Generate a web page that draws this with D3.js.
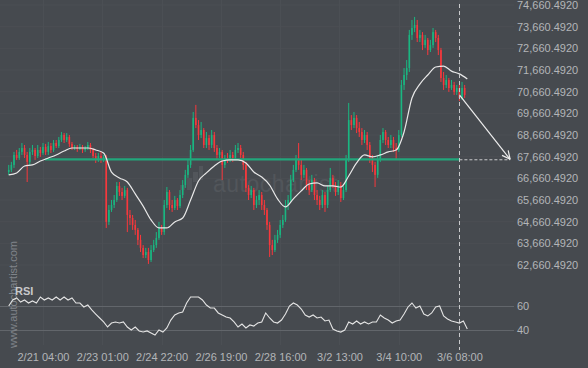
<!DOCTYPE html>
<html><head><meta charset="utf-8">
<script src="https://cdn.jsdelivr.net/npm/d3@7"></script>
<style>
html,body{margin:0;padding:0;background:#464a4f;}
svg{display:block;}
text{font-family:"Liberation Sans",Arial,sans-serif;}
</style>
</head><body>
<svg id="chart" width="588" height="368"></svg>
<script>
// ---------- DATA ----------
const priceTicks = [74660.492, 73660.492, 72660.492, 71660.492, 70660.492, 69660.492, 68660.492,
  67660.492, 66660.492, 65660.492, 64660.492, 63660.492, 62660.492];
const timeTicks = ["2023-02-21T04:00", "2023-02-23T01:00", "2023-02-24T22:00", "2023-02-26T19:00",
  "2023-02-28T16:00", "2023-03-02T13:00", "2023-03-04T10:00", "2023-03-06T08:00"];
const rsiTicks = [60, 40];

const candleStart = "2023-02-20T02:00"; // 2-hour candles
const candleStepHours = 2;
// [open, high, low, close]
const ohlc = [
[66950,67280,66820,67050],[67050,67420,66950,67280],[67280,67880,67140,67740],[67740,67970,67510,67600],
[67600,68060,67510,67880],[67880,68290,67740,68060],[68060,68200,67600,67740],[67740,67880,66490,67420],
[67420,68060,67280,67880],[67880,68200,67740,67970],[67970,68060,67510,67690],[67690,68200,67600,67970],
[67970,68110,67650,67830],[67830,68290,67740,68110],[68110,68250,67740,67880],[67880,68340,67740,68150],
[68150,68290,67830,67970],[67970,68430,67880,68290],[68290,68430,68060,68150],[68150,68570,68060,68430],
[68430,68800,68340,68660],[68660,68750,68290,68430],[68430,68750,68340,68570],[68570,68660,68110,68250],
[68250,68340,67970,68060],[68060,68200,67970,68110],[68110,68200,67880,68010],[68010,68250,67970,68110],
[68110,68200,67830,67970],[67970,68150,67880,68060],[68060,68340,67970,68200],[68200,68290,67830,67970],
[67970,68060,67600,67690],[67690,67830,67370,67510],[67510,67830,67420,67690],[67690,67880,67370,67510],
[67510,67740,67420,67650],[67650,67740,64370,64650],[64650,65430,64510,65200],[65200,65660,65110,65430],
[65430,65890,65290,65660],[65660,66490,65570,66310],[66310,66490,65850,66030],[66030,66220,65660,65850],
[65850,66310,65750,66120],[66120,66220,64180,64970],[64970,65200,64510,64830],[64830,64970,64280,64510],
[64510,64740,64050,64280],[64280,64370,63580,63820],[63820,64050,63260,63450],[63450,63580,62980,63120],
[63120,63450,62980,63260],[63260,63450,62710,62890],[62890,63580,62800,63350],[63350,63820,63260,63580],
[63580,64180,63450,63910],[63910,64650,63820,64370],[64370,64510,64050,64180],[64180,65660,64050,65430],
[65430,66260,65290,66030],[66030,66120,65200,65430],[65430,65660,65110,65290],[65290,65850,65200,65660],
[65660,65750,65200,65380],[65380,66120,65290,65890],[65890,66580,65750,66350],[66350,67050,66220,66820],
[66820,67510,66680,67280],[67280,68200,67140,67970],[67970,69720,67880,69450],[69450,70050,68980,69120],
[69120,69350,68430,68660],[68660,69260,68520,68890],[68890,68980,68060,68200],[68200,68800,68060,68520],
[68520,68660,67970,68200],[68200,68890,68060,68660],[68660,68800,67880,68060],[68060,68200,67510,67740],
[67740,68060,67600,67880],[67880,67970,66580,67280],[67280,67740,67140,67600],[67600,67830,67370,67510],
[67510,67970,67420,67740],[67740,67880,67420,67600],[67600,68200,67510,67970],[67970,68290,67830,68060],
[68060,68200,67600,67740],[67740,67880,67050,67280],[67280,67420,66030,66220],[66220,66350,65660,65890],
[65890,66310,65750,66120],[66120,66220,65200,65430],[65430,65850,65290,65660],[65660,66120,65430,65890],
[65890,66030,65200,65430],[65430,65660,64970,65200],[65200,65290,64280,64510],[64510,64650,63030,63580],
[63580,63820,63120,63350],[63350,64050,63260,63820],[63820,64280,63680,64050],[64050,64740,63910,64510],
[64510,64970,64370,64740],[64740,65660,64650,65430],[65430,65890,65200,65660],[65660,66820,65570,66580],
[66580,67280,66490,67050],[67050,67740,66950,67510],[67510,68290,67050,67280],[67280,67510,66580,66820],
[66820,67280,66680,67050],[67050,67140,66120,66350],[66350,66580,65890,66120],[66120,66820,66030,66580],
[66580,66680,65660,65890],[65890,66120,65430,65660],[65660,65850,65200,65430],[65430,66120,65290,65890],
[65890,66030,65110,65430],[65430,66310,65290,66120],[66120,67140,66030,66680],[66680,66820,66220,66350],
[66350,66490,65850,66030],[66030,66580,65890,66350],[66350,66490,65570,65750],[65750,66310,65660,66120],
[66120,67740,66030,67510],[67510,70140,67420,69350],[69350,69580,68890,69120],[69120,69720,68980,69450],
[69450,69580,68750,68980],[68980,69260,68570,68800],[68800,68980,68200,68430],[68430,68890,68290,68660],
[68660,68800,67970,68200],[68200,68340,67370,67600],[67600,67740,66950,67280],[67280,67420,66260,66820],
[66820,67740,66680,67510],[67510,68660,67420,68430],[68430,68980,68290,68800],[68800,68890,68200,68430],
[68430,68570,68060,68200],[68200,68660,68060,68430],[68430,68570,67880,68060],[68060,68290,67510,67970],
[67970,68890,67880,68660],[68660,71200,68570,70970],[70970,71750,70740,71430],[71430,72120,71200,71750],
[71750,73510,71570,73280],[73280,73970,73050,73600],[73600,74110,73410,73740],[73740,73970,72950,73140],
[73140,73510,72950,73280],[73280,73410,72580,72810],[72810,73280,72680,73050],[73050,73140,72350,72580],
[72580,73050,72490,72810],[72810,73600,72680,73410],[73410,73510,72950,73140],[73140,73280,72350,72580],
[72580,72680,71110,71290],[71290,71570,70740,70970],[70970,71430,70830,71200],[71200,71290,70650,70830],
[70830,71200,70740,70970],[70970,71110,70510,70650],[70650,70970,70510,70830],[70830,70970,70230,70370],
[70370,71110,70280,70830],[70830,70970,70370,70510]
];

const maStart = "2023-02-20T02:00"; // moving average sampled every 6 hours
const maStepHours = 6;
const maValues = [66820,66910,67230,67280,67460,67600,67740,67920,68060,68060,68060,67970,67830,66950,
  66680,66490,65940,65380,64740,64370,64370,64650,64830,65660,66540,66910,67230,67460,67510,67510,
  67370,66950,66720,66350,65710,65340,65710,66080,66400,66450,66310,66310,66260,66770,67370,67740,
  67650,67740,67880,67970,68800,70370,71010,71430,71800,71840,71610,71480,71250];

const rsiStart = "2023-02-20T02:00"; // RSI sampled every 3 hours
const rsiStepHours = 3;
const rsiValues = [60,65,66.7,63.3,65,62.5,64.2,62.5,67.5,65,66.7,65,67.5,65,67.5,65,66.7,62.5,62.5,59.2,
  60.8,56.7,53.3,50,46.7,42.5,45.8,46.7,45.8,46.7,42.5,40,42.5,39.2,38.3,39.2,37.5,35.8,40,38.3,41.7,
  48.3,52.5,54.2,55,62.5,67.5,67.5,67.5,65,60.8,58.3,58.3,54.2,52.5,50.8,50,46.7,42.5,45,41.7,44.2,
  43.3,45.8,46.7,54.2,50,46.7,45.8,48.3,53.3,60,62.5,60.8,57.5,52.5,50.8,52.5,50,50.8,47.5,48.3,40.8,
  39.2,38.3,40,46.7,45,47.5,45,46.7,45,46.7,46.7,52.5,50,48.3,45.8,47.5,48.3,53.3,59.2,62.5,58.3,60,
  53.3,51.7,54.2,59.2,60,51.7,49.2,47.5,46.7,45.8,47.5,40.8];

const supportLevel = 67540;
const supportFrom = "2023-02-21T05:30";
const supportTo = "2023-03-06T08:00";
const forecastFrom = {time: "2023-03-06T08:00", price: 70510};
const forecastTo = {time: "2023-03-07T22:30", price: 67540};

// ---------- DRAW ----------
const parse = d3.timeParse("%Y-%m-%dT%H:%M");
const HOUR = 3600 * 1000;
const svg = d3.select("#chart");
const W = 588, H = 368;
const plotRight = 514;

svg.append("rect").attr("width", W).attr("height", H).attr("fill", "#464a4f");

const x = d3.scaleTime()
  .domain([parse("2023-02-21T04:00"), parse("2023-03-06T08:00")])
  .range([43, 459.4]);
const y = d3.scaleLinear().domain([62660.492, 74660.492]).range([265, 5]);
const ry = d3.scaleLinear().domain([40, 60]).range([330, 306]);

const tickDates = timeTicks.map(parse);

// faint grid
const grid = svg.append("g");
grid.selectAll(".hg").data(priceTicks).enter().append("line")
  .attr("x1", 0).attr("x2", plotRight).attr("y1", d => y(d)).attr("y2", d => y(d))
  .attr("stroke", "#4b4f54").attr("stroke-width", 1);
grid.selectAll(".vg").data(tickDates).enter().append("line")
  .attr("x1", d => Math.round(x(d)) + 0.5).attr("x2", d => Math.round(x(d)) + 0.5)
  .attr("y1", 0).attr("y2", 345)
  .attr("stroke", "#4b4f54").attr("stroke-width", 1);

// RSI grid
svg.append("g").selectAll("line").data(rsiTicks).enter().append("line")
  .attr("x1", 0).attr("x2", plotRight).attr("y1", d => ry(d) + 0.5).attr("y2", d => ry(d) + 0.5)
  .attr("stroke", "#62666b").attr("stroke-width", 1);

// watermark logo + text
const wm = svg.append("g").attr("fill", "#52565b");
[[180, 185, 5, 5], [187, 178, 5, 12], [193, 172, 5, 10], [199, 166, 4, 14]].forEach(b => {
  wm.append("rect").attr("x", b[0]).attr("y", b[1]).attr("width", b[2]).attr("height", b[3]);
});
svg.append("text").attr("x", 213).attr("y", 192).attr("font-size", 23)
  .attr("fill", "#52565b").attr("letter-spacing", 0.5).text("autochartist");

// vertical url watermark
svg.append("text").attr("transform", "translate(17,348) rotate(-90)")
  .attr("font-size", 11).attr("fill", "#80848a").text("www.autochartist.com");

// candles
const cStart = parse(candleStart);
const cg = svg.append("g");
const ct = i => new Date(cStart.getTime() + i * candleStepHours * HOUR);
const green = "#1ab681", red = "#f7383c";
cg.selectAll("line").data(ohlc).enter().append("line")
  .attr("x1", (d, i) => x(ct(i))).attr("x2", (d, i) => x(ct(i)))
  .attr("y1", d => y(d[1])).attr("y2", d => y(d[2]))
  .attr("stroke", d => d[3] >= d[0] ? green : red).attr("stroke-width", 1);
cg.selectAll("rect").data(ohlc).enter().append("rect")
  .attr("x", (d, i) => x(ct(i)) - 0.8)
  .attr("width", 1.6)
  .attr("y", d => y(Math.max(d[0], d[3])))
  .attr("height", d => Math.max(1, Math.abs(y(d[0]) - y(d[3]))))
  .attr("fill", d => d[3] >= d[0] ? green : red);

// support line
svg.append("line")
  .attr("x1", x(parse(supportFrom))).attr("x2", x(parse(supportTo)))
  .attr("y1", y(supportLevel)).attr("y2", y(supportLevel))
  .attr("stroke", "#22a67b").attr("stroke-width", 2.2);
svg.append("line")
  .attr("x1", x(parse(supportTo))).attr("x2", x(parse(forecastTo.time)))
  .attr("y1", y(supportLevel) + 0.5).attr("y2", y(supportLevel) + 0.5)
  .attr("stroke", "#c9cacc").attr("stroke-width", 1).attr("stroke-dasharray", "3,2");

// moving average
const mStart = parse(maStart);
svg.append("path").datum(maValues)
  .attr("d", d3.line().x((d, i) => x(new Date(mStart.getTime() + i * maStepHours * HOUR))).y(d => y(d)).curve(d3.curveMonotoneX))
  .attr("fill", "none").attr("stroke", "#e8e8e8").attr("stroke-width", 1.2);

// forecast arrow
const fx1 = x(parse(forecastFrom.time)), fy1 = y(forecastFrom.price);
const fx2 = x(parse(forecastTo.time)), fy2 = y(forecastTo.price);
svg.append("line").attr("x1", fx1).attr("y1", fy1).attr("x2", fx2).attr("y2", fy2)
  .attr("stroke", "#eeeeee").attr("stroke-width", 1.2);
const ang = Math.atan2(fy2 - fy1, fx2 - fx1);
[0.45, -0.45].forEach(a => {
  svg.append("line").attr("x1", fx2).attr("y1", fy2)
    .attr("x2", fx2 - 9 * Math.cos(ang + a)).attr("y2", fy2 - 9 * Math.sin(ang + a))
    .attr("stroke", "#eeeeee").attr("stroke-width", 1.2);
});

// vertical dashed "now" line
const nowX = Math.round(x(parse(timeTicks[timeTicks.length - 1]))) + 0.5;
svg.append("line").attr("x1", nowX).attr("x2", nowX).attr("y1", 4).attr("y2", 350)
  .attr("stroke", "#c9cacc").attr("stroke-width", 1).attr("stroke-dasharray", "4,3");

// RSI line
const rStart = parse(rsiStart);
svg.append("path").datum(rsiValues)
  .attr("d", d3.line().x((d, i) => x(new Date(rStart.getTime() + i * rsiStepHours * HOUR))).y(d => ry(d)))
  .attr("fill", "none").attr("stroke", "#e4e4e4").attr("stroke-width", 1.1);

svg.append("text").attr("x", 15).attr("y", 295).attr("font-size", 11).attr("font-weight", "bold")
  .attr("fill", "#c8c9cb").text("RSI");

// axes
const axisColor = "#b3b5b8";
const yAxis = svg.append("g").attr("transform", "translate(517,0)")
  .call(d3.axisRight(y).tickValues(priceTicks).tickSize(0).tickPadding(0).tickFormat(d3.format(",.4f")));
const rAxis = svg.append("g").attr("transform", "translate(517,0)")
  .call(d3.axisRight(ry).tickValues(rsiTicks).tickSize(0).tickPadding(0));
const xAxis = svg.append("g").attr("transform", "translate(0,350)")
  .call(d3.axisBottom(x).tickValues(tickDates).tickSize(0).tickPadding(3).tickFormat(d3.timeFormat("%-m/%-d %H:%M")));
[yAxis, rAxis, xAxis].forEach(g => {
  g.select(".domain").remove();
  g.selectAll("text").attr("fill", axisColor).attr("font-size", 11)
    .attr("font-family", "'Liberation Sans', Arial, sans-serif");
});
</script>
</body></html>
